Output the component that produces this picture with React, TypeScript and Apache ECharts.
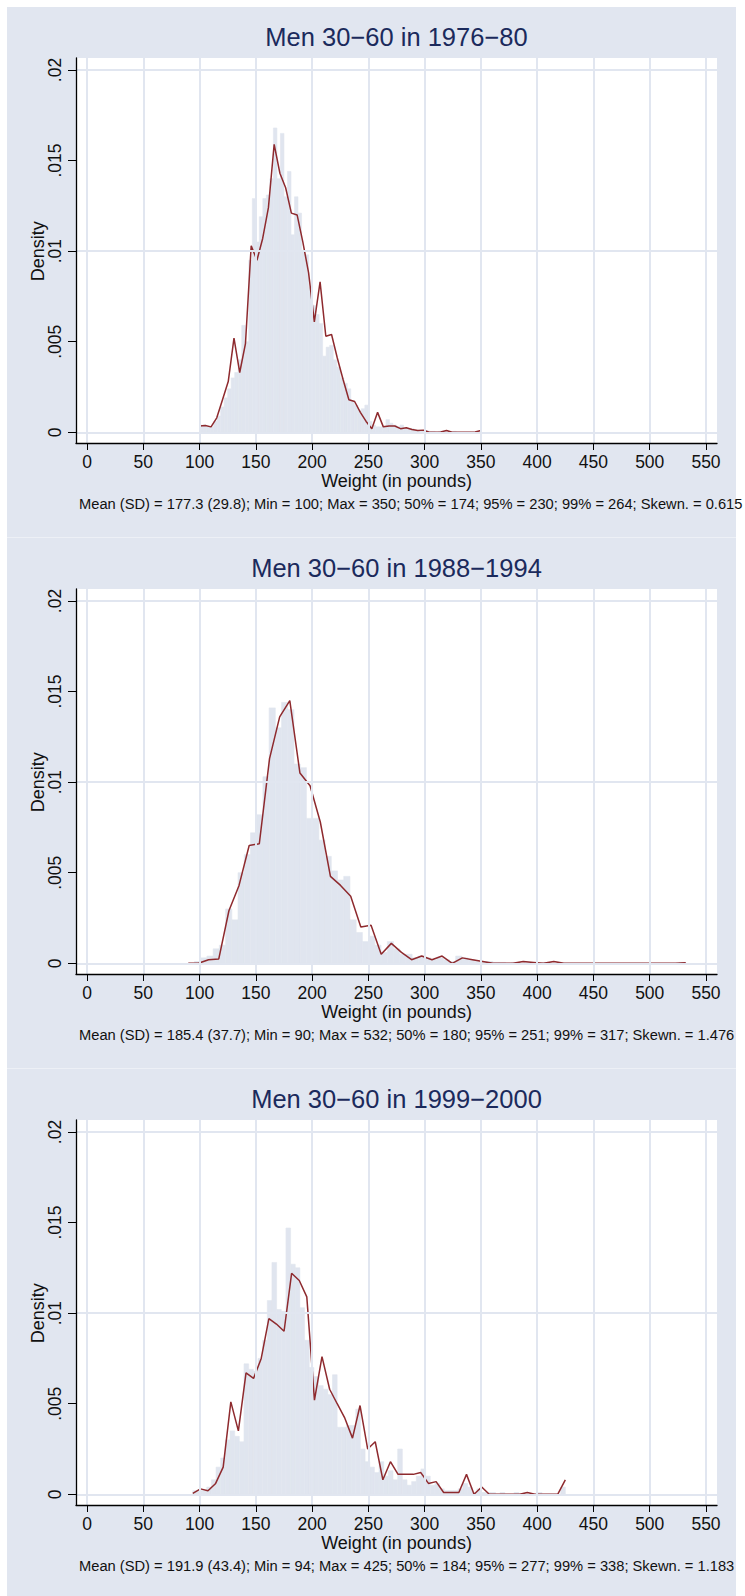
import React, { useEffect, useRef } from 'react';
import * as echarts from 'echarts';

const FONT = '"Liberation Sans", Arial, Helvetica, sans-serif';
const BG = '#e1e6f0';
const SEP = '#edf0f6';
const GRIDC = '#e1e6f0';
const BARC = '#e0e5ef';
const LINEC = '#8e2a2e';
const NAVY = '#1b2a5c';
const INK = '#111111';

const titles = ['Men 30\u221260 in 1976\u221280', 'Men 30\u221260 in 1988\u22121994', 'Men 30\u221260 in 1999\u22122000'];
const notes = [
  'Mean (SD) = 177.3 (29.8); Min = 100; Max = 350; 50% = 174; 95% = 230; 99% = 264; Skewn. = 0.615',
  'Mean (SD) = 185.4 (37.7); Min = 90; Max = 532; 50% = 180; 95% = 251; 99% = 317; Skewn. = 1.476',
  'Mean (SD) = 191.9 (43.4); Min = 94; Max = 425; 50% = 184; 95% = 277; 99% = 338; Skewn. = 1.183',
];
const xTitle = 'Weight (in pounds)';
const yTitle = 'Density';
const xTicks = [0, 50, 100, 150, 200, 250, 300, 350, 400, 450, 500, 550];
const yTicks = [0, 0.005, 0.01, 0.015, 0.02];

// density line points
const line1X = [100, 105.1, 110.2, 115.3, 120.4, 125.5, 130.6, 135.7, 140.8, 145.9, 151.0, 156.1, 161.2, 166.3, 171.4, 176.5, 181.6, 186.7, 191.8, 196.9, 202.0, 207.1, 212.2, 217.3, 222.4, 227.6, 232.7, 237.8, 242.9, 248.0, 253.1, 258.2, 263.3, 268.4, 273.5, 278.6, 283.7, 288.8, 293.9, 299.0, 304.1, 309.2, 314.3, 319.4, 324.5, 329.6, 334.7, 339.8, 344.9, 350];
const line1Y = [0.00035, 0.00038, 0.0003, 0.0008, 0.0018, 0.0028, 0.0052, 0.0033, 0.0049, 0.0103, 0.0095, 0.0107, 0.0124, 0.0159, 0.0143, 0.0135, 0.0121, 0.012, 0.0105, 0.0088, 0.0061, 0.0083, 0.0053, 0.0054, 0.0041, 0.0029, 0.0018, 0.0017, 0.0011, 0.0006, 0.0002, 0.0011, 0.0003, 0.00035, 0.00035, 0.0002, 0.00025, 0.00015, 0.0001, 0.00012, 0, 0, 0.00002, 0.0001, 0, 0, 0, 0, 0.00002, 0.0001];

const line2X = [90, 99.0, 108.0, 117.1, 126.1, 135.1, 144.1, 153.1, 162.2, 171.2, 180.2, 189.2, 198.2, 207.3, 216.3, 225.3, 234.3, 243.3, 252.4, 261.4, 270.4, 279.4, 288.4, 297.4, 306.5, 315.5, 324.5, 333.5, 342.5, 351.6, 360.6, 369.6, 378.6, 387.6, 396.7, 405.7, 414.7, 423.7, 432.7, 441.8, 450.8, 459.8, 468.8, 477.8, 486.9, 495.9, 504.9, 513.9, 522.9, 532];
const line2Y = [0, 0, 0.0002, 0.00024, 0.0029, 0.0043, 0.0065, 0.0066, 0.0113, 0.0136, 0.0145, 0.0105, 0.0098, 0.0078, 0.0048, 0.0043, 0.0037, 0.002, 0.0021, 0.0005, 0.0011, 0.0006, 0.0002, 0.0004, 0.0002, 0.0004, 0, 0.0003, 0.0002, 0.0001, 0, 0, 0, 0.0001, 0.00005, 0, 0.0001, 0, 0, 0, 0, 0, 0, 0, 0, 0, 0, 0, 0, 0.00003];

const line3X = [94, 100.8, 107.5, 114.3, 121.0, 127.8, 134.5, 141.3, 148.0, 154.8, 161.6, 168.3, 175.1, 181.8, 188.6, 195.3, 202.1, 208.8, 215.6, 222.3, 229.1, 235.9, 242.6, 249.4, 256.1, 262.9, 269.6, 276.4, 283.1, 289.9, 296.6, 303.4, 310.2, 316.9, 323.7, 330.4, 337.2, 343.9, 350.7, 357.4, 364.2, 370.9, 377.7, 384.5, 391.2, 398.0, 404.7, 411.5, 418.2, 425];
const line3Y = [0.00005, 0.0003, 0.0002, 0.0006, 0.0015, 0.0051, 0.0035, 0.0067, 0.0064, 0.0075, 0.0097, 0.0094, 0.009, 0.0122, 0.0118, 0.0109, 0.0052, 0.0076, 0.0058, 0.005, 0.0042, 0.0031, 0.0049, 0.0025, 0.0029, 0.0008, 0.0018, 0.0011, 0.0011, 0.0011, 0.0012, 0.0006, 0.0007, 0.0001, 0.0001, 0.0001, 0.0011, 0, 0.0004, 0, 0, 0, 0, 0, 0.0001, 0, 0, 0, 0, 0.0008];

// histograms: 80 equal bins between min and max
const hist1Range = [100, 350];
const hist1 = [
  0.0004, 0.0004, 0.0003, 0.0003, 0.0006, 0.0009, 0.0014, 0.0019, 0.0024, 0.0030,
  0.0033, 0.0040, 0.0059, 0.0050, 0.0095, 0.0129, 0.0105, 0.0119, 0.0129, 0.0131,
  0.0140, 0.0168, 0.0140, 0.0165, 0.0130, 0.0144, 0.0109, 0.0130, 0.0121, 0.0100,
  0.0098, 0.0080, 0.0070, 0.0065, 0.0060, 0.0042, 0.0047, 0.0048, 0.0040, 0.0036,
  0.0030, 0.0027, 0.0024, 0.0017, 0.0015, 0.0012, 0.0013, 0.0015, 0.0006, 0.0004,
  0.0003, 0.0003, 0.0003, 0.0007, 0.0005, 0.0004, 0.0003, 0.0004, 0.0002, 0.0002,
  0.0002, 0.0001, 0.0001, 0.0001, 0.0001, 0.00005, 0.00005, 0, 0.00005, 0.00005,
  0, 0, 0.00005, 0, 0, 0, 0, 0, 0, 0.00005,
];
const hist2Range = [90, 532];
const hist2 = [
  0, 0.0001, 0.0003, 0.0004, 0.0008, 0.0010, 0.0030, 0.0024, 0.0050, 0.0060,
  0.0072, 0.0082, 0.0103, 0.0141, 0.0130, 0.0144, 0.0140, 0.0110, 0.0108, 0.0080,
  0.0080, 0.0068, 0.0059, 0.0051, 0.0046, 0.0048, 0.0024, 0.0017, 0.0012, 0.0015,
  0.0010, 0.0006, 0.0012, 0.0008, 0.0005, 0.0005, 0.0003, 0.0004, 0.0003, 0.0002,
  0.0003, 0.0002, 0.0001, 0.0004, 0.0003, 0.0002, 0.0001, 0.0001, 0.0001, 0.00005,
  0.00005, 0, 0.00005, 0, 0.00005, 0, 0, 0.00005, 0, 0,
  0, 0, 0, 0, 0, 0, 0, 0, 0, 0,
  0, 0, 0, 0, 0, 0, 0, 0, 0, 0.00005,
];
const hist3Range = [94, 425];
const hist3 = [
  0.0002, 0.0002, 0.0002, 0.0004, 0.0008, 0.0015, 0.0020, 0.0030, 0.0035, 0.0032,
  0.0029, 0.0072, 0.0069, 0.0068, 0.0075, 0.0085, 0.0107, 0.0128, 0.0102, 0.0101,
  0.0147, 0.0127, 0.0125, 0.0103, 0.0085, 0.0070, 0.0065, 0.0060, 0.0058, 0.0055,
  0.0066, 0.0037, 0.0037, 0.0038, 0.0038, 0.0047, 0.0025, 0.0018, 0.0015, 0.0012,
  0.0018, 0.0010, 0.0013, 0.0008, 0.0025, 0.0008, 0.0005, 0.0007, 0.0010, 0.0014,
  0.0010, 0.0005, 0.0006, 0.0003, 0.0002, 0.0002, 0.0002, 0.0003, 0.0006, 0.0004,
  0.0001, 0.0003, 0.0001, 0.0001, 0.0001, 0, 0.0001, 0, 0, 0.0001,
  0, 0, 0, 0, 0.0001, 0, 0, 0, 0, 0.0004,
];

const panels = [
  { title: titles[0], note: notes[0], lx: line1X, ly: line1Y, range: hist1Range, hist: hist1 },
  { title: titles[1], note: notes[1], lx: line2X, ly: line2Y, range: hist2Range, hist: hist2 },
  { title: titles[2], note: notes[2], lx: line3X, ly: line3Y, range: hist3Range, hist: hist3 },
];

function yFmt(v: number) {
  if (Math.abs(v) < 1e-9) return '0';
  return String(+v.toFixed(4)).replace(/^0/, '');
}

function buildOption() {
  const grid: any[] = [];
  const xAxis: any[] = [];
  const yAxis: any[] = [];
  const series: any[] = [];
  const graphic: any[] = [];

  graphic.push({ type: 'rect', z: -20, shape: { x: 7, y: 7, width: 729, height: 1589 }, style: { fill: SEP } });

  const PITCH = 531;
  const wLeft = 76, wW = 641, wH = 385;
  const dLeft = 87, dW = 619, dH = 362.3;
  const xMax = 550, yMax = 0.02;
  const pxX = dW / xMax;
  const pxY = dH / yMax;

  panels.forEach((p, i) => {
    const top = 7 + PITCH * i;
    const wTop = top + 51;
    const dTop = top + 63;
    graphic.push({ type: 'rect', z: -10, shape: { x: 7, y: top, width: 729, height: 530 }, style: { fill: BG } });

    const gA = grid.length;
    grid.push({ left: wLeft, top: wTop, width: wW, height: wH, show: true, backgroundColor: '#ffffff', borderWidth: 0 });
    const gB = grid.length;
    grid.push({ left: dLeft, top: dTop, width: dW, height: dH, show: false });

    const xA = xAxis.length;
    xAxis.push({
      gridIndex: gA, type: 'value', position: 'bottom',
      min: -(dLeft - wLeft) / pxX, max: xMax + (wLeft + wW - dLeft - dW) / pxX,
      axisLine: { show: true, onZero: false, lineStyle: { color: '#000', width: 1.3 } },
      axisTick: { show: false }, axisLabel: { show: false }, splitLine: { show: false },
      z: 5,
    });
    const xB = xAxis.length;
    xAxis.push({
      gridIndex: gB, type: 'value', position: 'bottom', min: 0, max: xMax, interval: 50,
      offset: (wTop + wH) - (dTop + dH),
      axisLine: { show: false, onZero: false },
      axisTick: { show: true, length: 7, lineStyle: { color: '#000', width: 1 } },
      axisLabel: { show: true, margin: 10, fontSize: 17.5, fontFamily: FONT, color: INK },
      splitLine: { show: false },
    });
    const yA = yAxis.length;
    yAxis.push({
      gridIndex: gA, type: 'value', position: 'left',
      min: -((wTop + wH) - (dTop + dH)) / pxY, max: yMax + (dTop - wTop) / pxY,
      axisLine: { show: true, onZero: false, lineStyle: { color: '#000', width: 1.3 } },
      axisTick: { show: false }, axisLabel: { show: false }, splitLine: { show: false },
      z: 5,
    });
    const yB = yAxis.length;
    yAxis.push({
      gridIndex: gB, type: 'value', position: 'left', min: 0, max: yMax, interval: 0.005,
      offset: dLeft - wLeft,
      axisLine: { show: false, onZero: false },
      axisTick: { show: true, length: 8, lineStyle: { color: '#000', width: 1 } },
      axisLabel: { show: true, rotate: 90, margin: 12, fontSize: 17.5, fontFamily: FONT, color: INK, formatter: yFmt },
      splitLine: { show: false },
    });

    // grid lines spanning the whole plot region
    series.push({
      type: 'line', xAxisIndex: xA, yAxisIndex: yA, data: [[0, 0]], symbol: 'none', silent: true, z: 1,
      lineStyle: { opacity: 0 },
      markLine: {
        silent: true, symbol: ['none', 'none'], label: { show: false },
        lineStyle: { color: GRIDC, width: 2, type: 'solid' },
        emphasis: { disabled: true },
        data: [...xTicks.map((v) => ({ xAxis: v })), ...yTicks.map((v) => ({ yAxis: v }))],
      },
    });

    const n = p.hist.length;
    const bw = (p.range[1] - p.range[0]) / n;
    const barData = p.hist.map((h, k) => [p.range[0] + k * bw, p.range[0] + (k + 1) * bw, h]);
    series.push({
      type: 'custom', xAxisIndex: xB, yAxisIndex: yB, z: 2, silent: true,
      data: barData,
      encode: { x: [0, 1], y: 2 },
      renderItem: (params: any, api: any) => {
        const a = api.coord([api.value(0), api.value(2)]);
        const b = api.coord([api.value(1), 0]);
        return {
          type: 'rect',
          shape: { x: a[0], y: a[1], width: b[0] - a[0], height: b[1] - a[1] },
          style: { fill: BARC, stroke: BARC, lineWidth: 0.6 },
        };
      },
    });

    series.push({
      type: 'line', xAxisIndex: xB, yAxisIndex: yB, z: 3, silent: true,
      data: p.lx.map((x, k) => [x, p.ly[k]]),
      symbol: 'none', lineStyle: { color: LINEC, width: 1.5 },
    });

    graphic.push({
      type: 'text', z: 10, x: wLeft + wW / 2, y: top + 30,
      style: { text: p.title, font: `25.5px ${FONT}`, fill: NAVY, textAlign: 'center', textVerticalAlign: 'middle', verticalAlign: 'middle' },
    });
    graphic.push({
      type: 'text', z: 10, x: 38, y: dTop + dH / 2, rotation: Math.PI / 2,
      style: { text: yTitle, font: `18px ${FONT}`, fill: INK, textAlign: 'center', textVerticalAlign: 'middle', verticalAlign: 'middle' },
    });
    graphic.push({
      type: 'text', z: 10, x: wLeft + wW / 2, y: top + 474,
      style: { text: xTitle, font: `18px ${FONT}`, fill: INK, textAlign: 'center', textVerticalAlign: 'middle', verticalAlign: 'middle' },
    });
    graphic.push({
      type: 'text', z: 10, x: 79, y: top + 497,
      style: { text: p.note, font: `14.7px ${FONT}`, fill: INK, textAlign: 'left', textVerticalAlign: 'middle', verticalAlign: 'middle' },
    });
  });

  return { animation: false, backgroundColor: '#ffffff', grid, xAxis, yAxis, series, graphic };
}

export default function App() {
  const ref = useRef<HTMLDivElement>(null);
  useEffect(() => {
    const chart = echarts.init(ref.current as HTMLDivElement, null, { renderer: 'svg' });
    chart.setOption(buildOption() as any);
    return () => chart.dispose();
  }, []);
  return <div ref={ref} style={{ position: 'absolute', left: 0, top: 0, width: 745, height: 1596 }} />;
}
